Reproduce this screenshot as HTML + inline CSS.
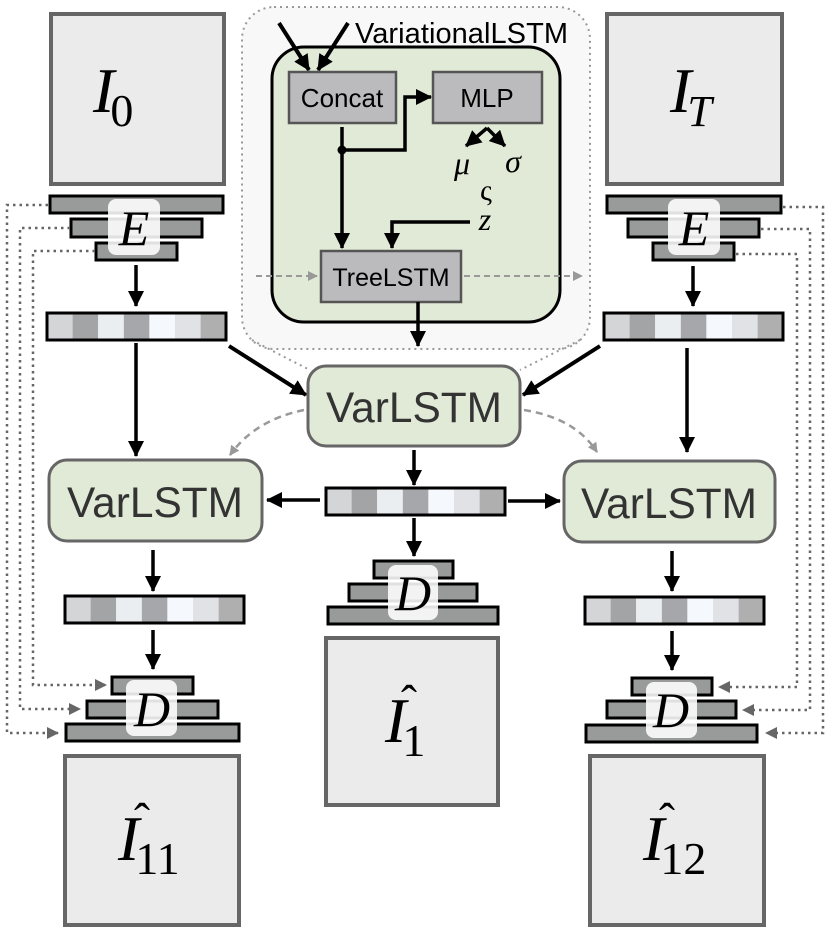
<!DOCTYPE html>
<html><head><meta charset="utf-8"><style>
html,body{margin:0;padding:0;background:#fff;}
svg{display:block;}
.sans{font-family:"Liberation Sans",sans-serif;}
.math{font-family:"Liberation Serif",serif;font-style:italic;}
.num{font-family:"Liberation Serif",serif;font-style:normal;}
</style></head><body>
<svg width="831" height="934" viewBox="0 0 831 934" xmlns="http://www.w3.org/2000/svg">
<defs>
<marker id="ag" markerWidth="10" markerHeight="10" refX="9" refY="5" orient="auto" markerUnits="userSpaceOnUse" viewBox="0 0 10 10">
<path d="M0,0 L10,5 L0,10 z" fill="#999"/></marker>
<marker id="ad" markerWidth="12" markerHeight="12" refX="11" refY="6" orient="auto" markerUnits="userSpaceOnUse" viewBox="0 0 12 12">
<path d="M0,0 L12,6 L0,12 z" fill="#666"/></marker>
<marker id="abig" markerWidth="16" markerHeight="16" refX="15" refY="8" orient="auto" markerUnits="userSpaceOnUse" viewBox="0 0 16 16">
<path d="M0,0 L16,8 L0,16 z" fill="#000"/></marker>
<g id="vec">
<rect x="0" y="0" width="25.6" height="27" fill="#d4d5d7"/>
<rect x="25.6" y="0" width="25.6" height="27" fill="#a3a4a5"/>
<rect x="51.2" y="0" width="25.6" height="27" fill="#ebeef1"/>
<rect x="76.8" y="0" width="25.6" height="27" fill="#a5a7aa"/>
<rect x="102.4" y="0" width="25.6" height="27" fill="#f5f8fc"/>
<rect x="128" y="0" width="25.6" height="27" fill="#e1e2e5"/>
<rect x="153.6" y="0" width="25.6" height="27" fill="#aeafae"/>
<rect x="0" y="0" width="179" height="27" fill="none" stroke="#000" stroke-width="3"/>
</g>
</defs>

<rect x="242" y="7" width="348" height="342" rx="32" fill="#f8f8f8" stroke="#999" stroke-width="2" stroke-dasharray="2,4"/>
<path d="M252,340 Q280,355 310,370" fill="none" stroke="#999" stroke-width="2" stroke-dasharray="2,4"/>
<path d="M580,340 Q550,355 520,370" fill="none" stroke="#999" stroke-width="2" stroke-dasharray="2,4"/>
<rect x="272" y="47" width="288" height="275" rx="32" fill="#e1ead6" stroke="#000" stroke-width="3"/>
<text x="355" y="43" class="sans" font-size="29" fill="#000" textLength="213">VariationalLSTM</text>
<line x1="279" y1="23" x2="309" y2="70" stroke="#000" stroke-width="4" marker-end="url(#abig)"/>
<line x1="348" y1="23" x2="318" y2="70" stroke="#000" stroke-width="4" marker-end="url(#abig)"/>
<rect x="289" y="72" width="107" height="51" fill="#bbbbbd" stroke="#555" stroke-width="2.5"/>
<text x="342" y="107" class="sans" font-size="26" text-anchor="middle">Concat</text>
<rect x="433" y="72" width="109" height="51" fill="#bbbbbd" stroke="#555" stroke-width="2.5"/>
<text x="487" y="107" class="sans" font-size="26" text-anchor="middle">MLP</text>
<line x1="342" y1="127" x2="342" y2="248" stroke="#000" stroke-width="3.5" marker-end="url(#abig)"/>
<circle cx="342" cy="150" r="4.5" fill="#000"/>
<polyline points="342,150 405,150 405,97 431,97" fill="none" stroke="#000" stroke-width="3.5" marker-end="url(#abig)"/>
<line x1="487" y1="128" x2="466" y2="146" stroke="#000" stroke-width="3.5" marker-end="url(#abig)"/>
<line x1="487" y1="128" x2="505" y2="146" stroke="#000" stroke-width="3.5" marker-end="url(#abig)"/>
<text x="462" y="174" class="math" font-size="32" text-anchor="middle">μ</text>
<text x="513" y="172" class="math" font-size="32" text-anchor="middle">σ</text>
<text x="486" y="200" class="num" font-size="30" text-anchor="middle">ς</text>
<text x="485" y="230" class="math" font-size="32" text-anchor="middle">z</text>
<polyline points="470,222 392,222 392,248" fill="none" stroke="#000" stroke-width="3.5" marker-end="url(#abig)"/>
<rect x="321" y="251" width="140" height="51" fill="#bbbbbd" stroke="#555" stroke-width="2.5"/>
<text x="391" y="286" class="sans" font-size="25" text-anchor="middle">TreeLSTM</text>
<line x1="256" y1="276" x2="317" y2="276" stroke="#999" stroke-width="2" stroke-dasharray="6,4" marker-end="url(#ag)"/>
<line x1="464" y1="276" x2="582" y2="276" stroke="#999" stroke-width="2" stroke-dasharray="6,4" marker-end="url(#ag)"/>
<line x1="418" y1="302" x2="418" y2="346" stroke="#000" stroke-width="3.5" marker-end="url(#abig)"/>

<rect x="51" y="14" width="173" height="170" fill="#ebebeb" stroke="#666" stroke-width="4"/>
<text x="93" y="112" class="math" font-size="64">I<tspan class="num" font-size="46" dy="14" dx="-4">0</tspan></text>
<rect x="607" y="14" width="175" height="170" fill="#ebebeb" stroke="#666" stroke-width="4"/>
<text x="670" y="112" class="math" font-size="64">I<tspan font-size="44" dy="14" dx="-4">T</tspan></text>

<g>
<rect x="50" y="196" width="173" height="17" fill="#999b9a" stroke="#000" stroke-width="3"/>
<rect x="71" y="219" width="131" height="18" fill="#999b9a" stroke="#000" stroke-width="3"/>
<rect x="96" y="243" width="81" height="17" fill="#999b9a" stroke="#000" stroke-width="3"/>
<rect x="108" y="199" width="52" height="56" rx="8" fill="#fff" fill-opacity="0.88"/>
<text x="134" y="245" class="math" font-size="50" text-anchor="middle">E</text>
</g>
<g>
<rect x="607" y="196" width="174" height="17" fill="#999b9a" stroke="#000" stroke-width="3"/>
<rect x="628" y="219" width="131" height="18" fill="#999b9a" stroke="#000" stroke-width="3"/>
<rect x="653" y="243" width="81" height="17" fill="#999b9a" stroke="#000" stroke-width="3"/>
<rect x="668" y="199" width="52" height="56" rx="8" fill="#fff" fill-opacity="0.88"/>
<text x="694" y="245" class="math" font-size="50" text-anchor="middle">E</text>
</g>

<line x1="136" y1="265" x2="136" y2="306" stroke="#000" stroke-width="3.5" marker-end="url(#abig)"/>
<line x1="693" y1="266" x2="693" y2="306" stroke="#000" stroke-width="3.5" marker-end="url(#abig)"/>
<use href="#vec" x="47" y="313"/>
<use href="#vec" x="604" y="313"/>

<line x1="136" y1="343" x2="136" y2="456" stroke="#000" stroke-width="3.5" marker-end="url(#abig)"/>
<line x1="687" y1="348" x2="687" y2="452" stroke="#000" stroke-width="3.5" marker-end="url(#abig)"/>
<line x1="229" y1="346" x2="306" y2="395" stroke="#000" stroke-width="4" marker-end="url(#abig)"/>
<line x1="600" y1="346" x2="523" y2="395" stroke="#000" stroke-width="4" marker-end="url(#abig)"/>

<rect x="308" y="366" width="212" height="80" rx="18" fill="#e1ead6" stroke="#666" stroke-width="3"/>
<text x="414" y="422" class="sans" font-size="43" text-anchor="middle" fill="#333" textLength="176" lengthAdjust="spacingAndGlyphs">VarLSTM</text>
<rect x="49" y="460" width="213" height="81" rx="18" fill="#e1ead6" stroke="#666" stroke-width="3"/>
<text x="155" y="517" class="sans" font-size="43" text-anchor="middle" fill="#333" textLength="176" lengthAdjust="spacingAndGlyphs">VarLSTM</text>
<rect x="564" y="461" width="211" height="81" rx="18" fill="#e1ead6" stroke="#666" stroke-width="3"/>
<text x="669" y="518" class="sans" font-size="43" text-anchor="middle" fill="#333" textLength="176" lengthAdjust="spacingAndGlyphs">VarLSTM</text>

<path d="M304,410 Q255,420 230,455" fill="none" stroke="#999" stroke-width="2.5" stroke-dasharray="7,5" marker-end="url(#ag)"/>
<path d="M524,410 Q575,418 597,452" fill="none" stroke="#999" stroke-width="2.5" stroke-dasharray="7,5" marker-end="url(#ag)"/>

<line x1="414" y1="450" x2="414" y2="485" stroke="#000" stroke-width="3.5" marker-end="url(#abig)"/>
<use href="#vec" x="326" y="488"/>
<line x1="320" y1="500" x2="267" y2="500" stroke="#000" stroke-width="3.5" marker-end="url(#abig)"/>
<line x1="508" y1="501" x2="560" y2="501" stroke="#000" stroke-width="3.5" marker-end="url(#abig)"/>
<line x1="414" y1="518" x2="414" y2="556" stroke="#000" stroke-width="3.5" marker-end="url(#abig)"/>

<line x1="153" y1="550" x2="153" y2="591" stroke="#000" stroke-width="3.5" marker-end="url(#abig)"/>
<use href="#vec" x="65" y="596"/>
<line x1="153" y1="630" x2="153" y2="669" stroke="#000" stroke-width="3.5" marker-end="url(#abig)"/>
<line x1="672" y1="551" x2="672" y2="591" stroke="#000" stroke-width="3.5" marker-end="url(#abig)"/>
<use href="#vec" x="585" y="597"/>
<line x1="672" y1="631" x2="672" y2="670" stroke="#000" stroke-width="3.5" marker-end="url(#abig)"/>

<g>
<rect x="374" y="561" width="79" height="17" fill="#999b9a" stroke="#000" stroke-width="3"/>
<rect x="349" y="584" width="128" height="17" fill="#999b9a" stroke="#000" stroke-width="3"/>
<rect x="328" y="607" width="170" height="17" fill="#999b9a" stroke="#000" stroke-width="3"/>
<rect x="388" y="565" width="50" height="55" rx="8" fill="#fff" fill-opacity="0.88"/>
<text x="413" y="610" class="math" font-size="50" text-anchor="middle">D</text>
</g>
<g>
<rect x="112" y="677" width="81" height="17" fill="#999b9a" stroke="#000" stroke-width="3"/>
<rect x="87" y="701" width="131" height="17" fill="#999b9a" stroke="#000" stroke-width="3"/>
<rect x="66" y="724" width="173" height="17" fill="#999b9a" stroke="#000" stroke-width="3"/>
<rect x="126" y="680" width="51" height="56" rx="8" fill="#fff" fill-opacity="0.88"/>
<text x="152" y="726" class="math" font-size="50" text-anchor="middle">D</text>
</g>
<g>
<rect x="632" y="678" width="80" height="17" fill="#999b9a" stroke="#000" stroke-width="3"/>
<rect x="607" y="701" width="129" height="17" fill="#999b9a" stroke="#000" stroke-width="3"/>
<rect x="586" y="725" width="171" height="17" fill="#999b9a" stroke="#000" stroke-width="3"/>
<rect x="646" y="682" width="51" height="56" rx="8" fill="#fff" fill-opacity="0.88"/>
<text x="671" y="727" class="math" font-size="50" text-anchor="middle">D</text>
</g>

<rect x="326" y="638" width="172" height="167" fill="#ebebeb" stroke="#666" stroke-width="4"/>
<text x="385" y="742" class="math" font-size="64">I<tspan class="num" font-size="46" dy="14" dx="-4">1</tspan></text>
<text x="401" y="718" class="num" font-size="48">ˆ</text>
<rect x="65" y="756" width="174" height="169" fill="#ebebeb" stroke="#666" stroke-width="4"/>
<text x="118" y="860" class="math" font-size="64">I<tspan class="num" font-size="46" dy="14" dx="-4">11</tspan></text>
<text x="134" y="836" class="num" font-size="48">ˆ</text>
<rect x="590" y="756" width="174" height="169" fill="#ebebeb" stroke="#666" stroke-width="4"/>
<text x="643" y="860" class="math" font-size="64">I<tspan class="num" font-size="46" dy="14" dx="-4">12</tspan></text>
<text x="659" y="836" class="num" font-size="48">ˆ</text>

<g fill="none" stroke="#666" stroke-width="2.5" stroke-dasharray="2.5,4">
<polyline points="48,205 7,205 7,733 58,733" marker-end="url(#ad)"/>
<polyline points="70,228 20,228 20,709 80,709" marker-end="url(#ad)"/>
<polyline points="95,251 33,251 33,685 106,685" marker-end="url(#ad)"/>
<polyline points="783,207 823,207 823,733 766,733" marker-end="url(#ad)"/>
<polyline points="761,229 810,229 810,710 743,710" marker-end="url(#ad)"/>
<polyline points="736,254 797,254 797,687 719,687" marker-end="url(#ad)"/>
</g>
</svg>
</body></html>
